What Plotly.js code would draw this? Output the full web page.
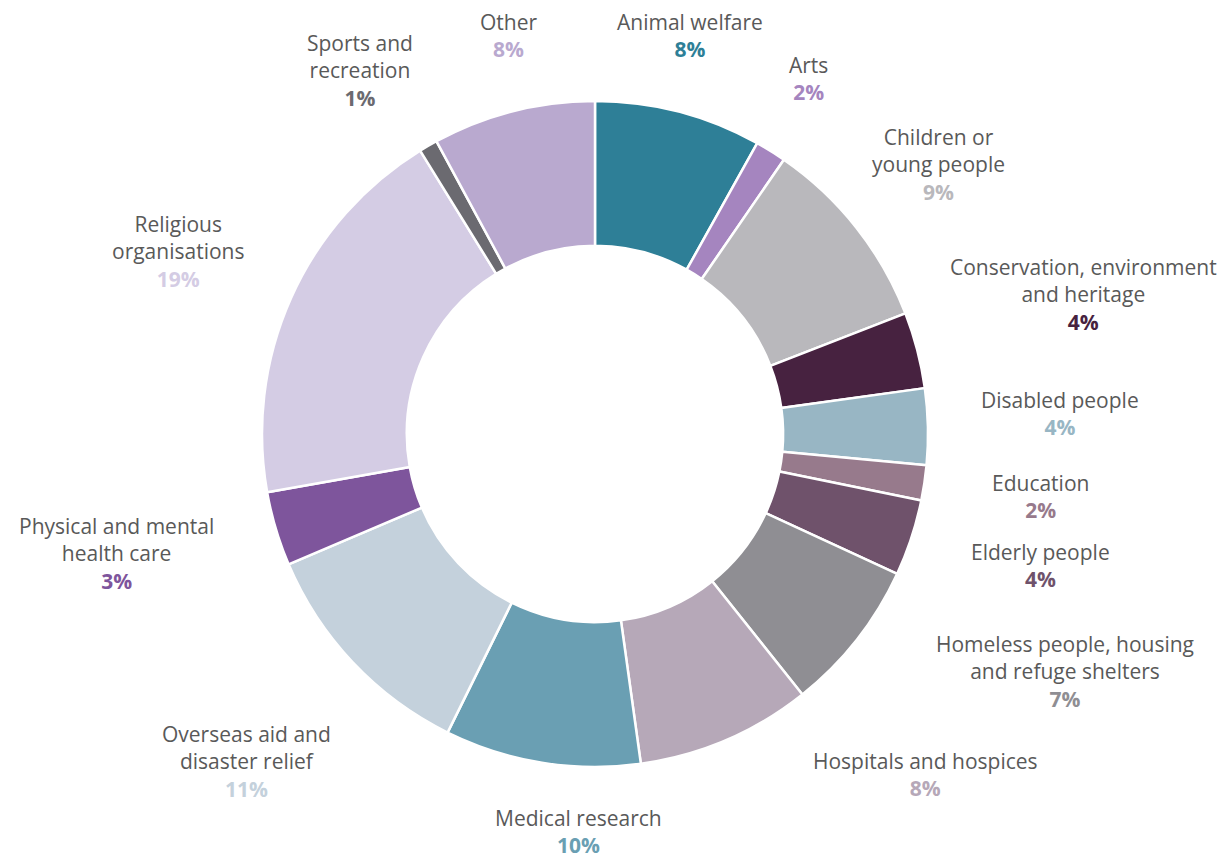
<!DOCTYPE html>
<html>
<head>
<meta charset="utf-8">
<script src="https://cdn.plot.ly/plotly-3.0.1.min.js"></script>
<style>html,body{margin:0;padding:0;background:#fff;}#chart{width:1223px;height:861px;}</style>
</head>
<body>
<div id="chart"></div>
<script>
// Categories (label text as shown, with line breaks)
const categories = [
  "Animal welfare", "Arts", "Children or<br>young people",
  "Conservation, environment<br>and heritage", "Disabled people", "Education",
  "Elderly people", "Homeless people, housing<br>and refuge shelters",
  "Hospitals and hospices", "Medical research",
  "Overseas aid and<br>disaster relief", "Physical and mental<br>health care",
  "Religious<br>organisations", "Sports and<br>recreation", "Other"
];
// Slice shares (percent of the ring)
const shares = [8.1, 1.5, 9.5, 3.7, 3.7, 1.7, 3.7, 7.4, 8.5, 9.5, 11.3, 3.6, 19.0, 0.9, 7.9];
// Printed percentage labels
const pctLabels = ["8%", "2%", "9%", "4%", "4%", "2%", "4%", "7%", "8%", "10%", "11%", "3%", "19%", "1%", "8%"];
// Slice colours
const colors = ["#2e7f97", "#a585bf", "#b9b8bc", "#472240", "#98b6c4", "#977a8c",
  "#6f526b", "#8f8e93", "#b6a8b8", "#6a9fb3", "#c4d1dc", "#7e559c",
  "#d4cce4", "#6b6a70", "#b9a9cf"];

// Label block placement (pixel centres in the 1223x861 frame)
const labelPos = [
  [690, 36], [808, 78], [938, 164], [1083, 294], [1060, 413], [1040, 496],
  [1040, 565], [1065, 671], [925, 774], [578, 831], [246, 761], [116, 553],
  [178, 251], [360, 71], [508, 35]
];

const W = 1223, H = 861;
const cx = 595, cy = 434, R = 333;

const annotations = categories.map((c, i) => ({
  xref: "paper", yref: "paper",
  x: labelPos[i][0] / W, y: 1 - labelPos[i][1] / H,
  xanchor: "center", yanchor: "middle", align: "center",
  showarrow: false,
  text: c + "<br><b><span style='color:" + colors[i] + "'>" + pctLabels[i] + "</span></b>",
  font: {family: "Open Sans, sans-serif", size: 21, color: "#595959"}
}));

const trace = {
  type: "pie",
  labels: categories,
  values: shares,
  sort: false,
  direction: "clockwise",
  rotation: 0,
  hole: 0.565,
  textinfo: "none",
  hoverinfo: "label+percent",
  marker: {colors: colors, line: {color: "#ffffff", width: 2.5}},
  domain: {
    x: [(cx - R) / W, (cx + R) / W],
    y: [(H - cy - R) / H, (H - cy + R) / H]
  }
};

const layout = {
  width: W, height: H,
  margin: {l: 0, r: 0, t: 0, b: 0},
  showlegend: false,
  paper_bgcolor: "#ffffff",
  plot_bgcolor: "#ffffff",
  annotations: annotations
};

Plotly.newPlot("chart", [trace], layout, {displayModeBar: false, staticPlot: true});
</script>
</body>
</html>
